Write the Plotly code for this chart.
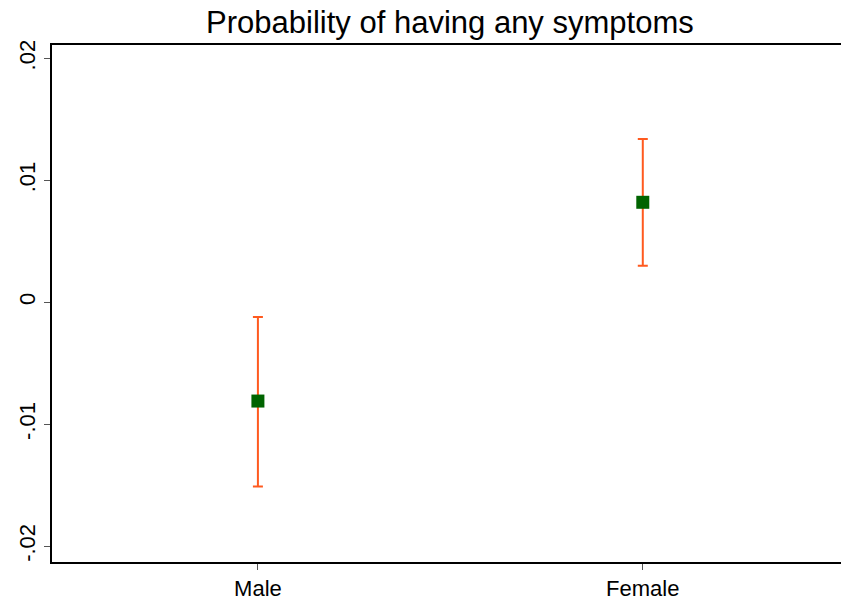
import plotly.graph_objects as go

categories = ["Male", "Female"]
estimates = [-0.0081, 0.0082]
ci_upper = [-0.0012, 0.0134]
ci_lower = [-0.0151, 0.0030]
ytick_vals = [-0.02, -0.01, 0, 0.01, 0.02]
ytick_text = ["-.02", "-.01", "0", ".01", ".02"]

xpos = list(range(len(categories)))
err_plus = [u - e for u, e in zip(ci_upper, estimates)]
err_minus = [e - l for e, l in zip(estimates, ci_lower)]

fig = go.Figure()
fig.add_trace(go.Scatter(
    x=xpos, y=estimates, mode="markers",
    marker=dict(symbol="square", size=13, color="#006400"),
    error_y=dict(type="data", symmetric=False, array=err_plus, arrayminus=err_minus,
                 color="#FF5A1F", thickness=2, width=5),
    showlegend=False,
))

fig.update_layout(
    width=841, height=600,
    paper_bgcolor="white", plot_bgcolor="white",
    margin=dict(l=52, r=0, t=45, b=38),
    title=dict(text="Probability of having any symptoms", x=0.535, xanchor="center",
               y=0.963, yanchor="middle",
               font=dict(family="Liberation Sans, Arial", size=31, color="black")),
    font=dict(family="Liberation Sans, Arial", color="black"),
)
fig.update_xaxes(
    range=[-0.535, 1.515], tickvals=xpos, ticktext=categories,
    showline=True, linecolor="black", linewidth=2, mirror=True,
    ticks="outside", ticklen=6, tickcolor="#555", tickwidth=1,
    showgrid=False, zeroline=False, tickfont=dict(size=22),
)
fig.update_yaxes(
    range=[-0.0213, 0.0211], tickvals=ytick_vals, ticktext=ytick_text,
    tickangle=-90,
    showline=True, linecolor="black", linewidth=2,
    ticks="outside", ticklen=6, tickcolor="#555", tickwidth=1,
    showgrid=False, zeroline=False, tickfont=dict(size=22),
)

fig.write_html("out.html")
